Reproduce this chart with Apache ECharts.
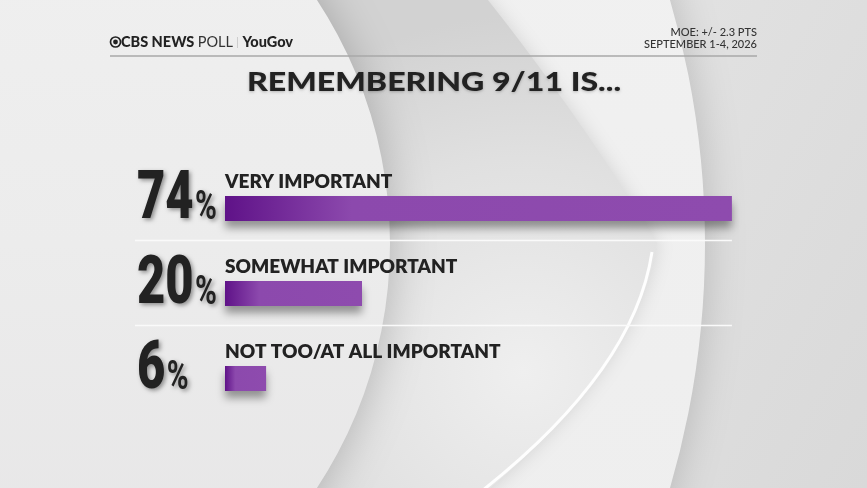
<!DOCTYPE html>
<html>
<head>
<meta charset="utf-8">
<script src="https://cdn.jsdelivr.net/npm/echarts@6/dist/echarts.min.js"></script>
<style>
html,body{margin:0;padding:0;background:#e8e8e8;}
#chart{width:867px;height:488px;}
</style>
</head>
<body>
<div id="chart"></div>
<script>
// ---- data ----
const categories = ['VERY IMPORTANT', 'SOMEWHAT IMPORTANT', 'NOT TOO/AT ALL IMPORTANT'];
const values = [74, 20, 6];
const titleText = 'REMEMBERING 9/11 IS...';
const moeText = 'MOE: +/- 2.3 PTS';
const dateText = 'SEPTEMBER 1-4, 2026';

const chart = echarts.init(document.getElementById('chart'), null, {renderer: 'canvas'});

const NUM_FONT = 'Roboto, "Liberation Sans", sans-serif';
const CAT_FONT = 'Lato, "Open Sans", sans-serif';

function quad(p0, c, p2, n) {
  const pts = [];
  for (let i = 0; i <= n; i++) {
    const t = i / n, u = 1 - t;
    pts.push([u*u*p0[0] + 2*u*t*c[0] + t*t*p2[0], u*u*p0[1] + 2*u*t*c[1] + t*t*p2[1]]);
  }
  return pts;
}
const lensPts = [[-10, -10], [480, -10]]
  .concat(quad([480, -10], [582, 118], [657, 243], 30))
  .concat(quad([657, 243], [638, 366], [478, 498], 30))
  .concat([[-10, 498]]);

const background = [
  {type: 'rect', z: 0, shape: {x: 0, y: 0, width: 867, height: 488},
   style: {fill: new echarts.graphic.LinearGradient(0, 0, 1, 1, [
     {offset: 0, color: '#eeeeee'}, {offset: 1, color: '#d9d9d9'}])}},
  {type: 'circle', z: 1, shape: {cx: -163, cy: 244, r: 868},
   style: {fill: new echarts.graphic.LinearGradient(0, 0, 0, 1, [
     {offset: 0, color: '#f3f3f3'}, {offset: 1, color: '#ececec'}]),
     shadowBlur: 40, shadowColor: 'rgba(0,0,0,0.18)'}},
  {type: 'polygon', z: 2, shape: {points: lensPts},
   style: {fill: new echarts.graphic.RadialGradient(0.8, 0.75, 0.7, [
     {offset: 0, color: '#efefef'}, {offset: 0.6, color: '#e0e0e0'}, {offset: 1, color: '#d2d2d2'}]),
     shadowBlur: 18, shadowColor: 'rgba(0,0,0,0.12)'}},
  {type: 'bezierCurve', z: 3, shape: {x1: 652, y1: 252, cpx1: 634, cpy1: 372, x2: 478, y2: 494},
   style: {fill: null, stroke: 'rgba(255,255,255,0.95)', lineWidth: 3}},
  {type: 'circle', z: 4, shape: {cx: -54, cy: 244, r: 444},
   style: {fill: new echarts.graphic.LinearGradient(0, 0, 0, 1, [
     {offset: 0, color: '#f1f1f1'}, {offset: 0.5, color: '#ececec'}, {offset: 1, color: '#e5e4e5'}]),
     shadowBlur: 45, shadowColor: 'rgba(0,0,0,0.22)'}},
];

const header = [
  {type: 'circle', z: 20, shape: {cx: 115.5, cy: 42, r: 5}, style: {fill: null, stroke: '#222', lineWidth: 1.7}},
  {type: 'circle', z: 20, shape: {cx: 115.5, cy: 42, r: 2.4}, style: {fill: '#222'}},
  {type: 'text', z: 20, x: 121, y: 42, style: {
    text: '{b|CBS NEWS} {r|POLL} {s||} {b|YouGov}',
    verticalAlign: 'middle', align: 'left',
    rich: {
      b: {fontFamily: CAT_FONT, fontWeight: 900, fontSize: 14.5, fill: '#222'},
      r: {fontFamily: CAT_FONT, fontWeight: 400, fontSize: 14.5, fill: '#333'},
      s: {fontFamily: CAT_FONT, fontWeight: 300, fontSize: 12, fill: '#aaa'}
    }}},
  {type: 'line', z: 20, shape: {x1: 110, y1: 56, x2: 757, y2: 56}, style: {stroke: '#a9a9a9', lineWidth: 1.5}},
  {type: 'text', z: 20, x: 757, y: 32, style: {text: moeText, align: 'right', verticalAlign: 'middle',
    fontFamily: CAT_FONT, fontSize: 11, fontWeight: 500, fill: '#333'}},
  {type: 'text', z: 20, x: 757, y: 44, style: {text: dateText, align: 'right', verticalAlign: 'middle',
    fontFamily: CAT_FONT, fontSize: 11, fontWeight: 500, fill: '#333'}},
  {type: 'text', z: 20, x: 434, y: 82, scaleX: 1.19, originX: 0, style: {text: titleText, align: 'center', verticalAlign: 'middle',
    fontFamily: CAT_FONT, fontSize: 27, fontWeight: 900, fill: '#222',
    textShadowColor: 'rgba(0,0,0,0.25)', textShadowBlur: 3, textShadowOffsetY: 1}},
];

const option = {
  animation: false,
  backgroundColor: 'transparent',
  grid: {left: 225, top: 166, right: 94, height: 255},
  xAxis: {type: 'value', min: 0, max: 80, show: false},
  yAxis: {type: 'category', data: categories, inverse: true, show: false},
  graphic: {elements: background.concat(header)},
  series: [
    {
      type: 'bar', z: 10, data: values, barWidth: 25,
      itemStyle: {
        color: new echarts.graphic.LinearGradient(0, 0, 1, 0, [
          {offset: 0, color: '#5f1288'}, {offset: 0.25, color: '#8c49ad'}, {offset: 1, color: '#8e4bae'}]),
        shadowColor: 'rgba(0,0,0,0.38)', shadowBlur: 9, shadowOffsetY: 7
      },
      label: {
        show: true, position: [0, -5], align: 'left', verticalAlign: 'bottom',
        formatter: p => p.name,
        fontFamily: CAT_FONT, fontWeight: 800, fontSize: 19, color: '#222'
      }
    }
  ]
};
chart.setOption(option);

// big condensed percentage numbers + separators, positioned via the axes
const extra = [];
const x0 = chart.convertToPixel({xAxisIndex: 0}, 0);
const xMax = chart.convertToPixel({xAxisIndex: 0}, values[0]);
for (let i = 0; i < categories.length; i++) {
  const yc = chart.convertToPixel({yAxisIndex: 0}, categories[i]);
  const shadow = {textShadowColor: 'rgba(0,0,0,0.4)', textShadowBlur: 4, textShadowOffsetX: 2, textShadowOffsetY: 2};
  extra.push({type: 'text', z: 20, x: x0 - 88, y: yc + 12.5 + 13, scaleX: 0.74, originX: 0, originY: 0,
    style: {
      text: '{n|' + values[i] + '}{p|%}', align: 'left', verticalAlign: 'bottom',
      rich: {
        n: Object.assign({fontFamily: NUM_FONT, fontWeight: 900, fontSize: 66, fill: '#222', lineHeight: 66, verticalAlign: 'bottom'}, shadow),
        p: Object.assign({fontFamily: NUM_FONT, fontWeight: 700, fontSize: 40, fill: '#222', lineHeight: 40, verticalAlign: 'bottom', padding: [0, 0, 5, 2]}, shadow)
      }
    }});
  if (i < categories.length - 1) {
    extra.push({type: 'line', z: 8, shape: {x1: 135, y1: yc + 32, x2: xMax, y2: yc + 32},
      style: {stroke: '#fafafa', lineWidth: 1.5}});
  }
}
chart.setOption({graphic: {elements: background.concat(header).concat(extra)}});
</script>
</body>
</html>
